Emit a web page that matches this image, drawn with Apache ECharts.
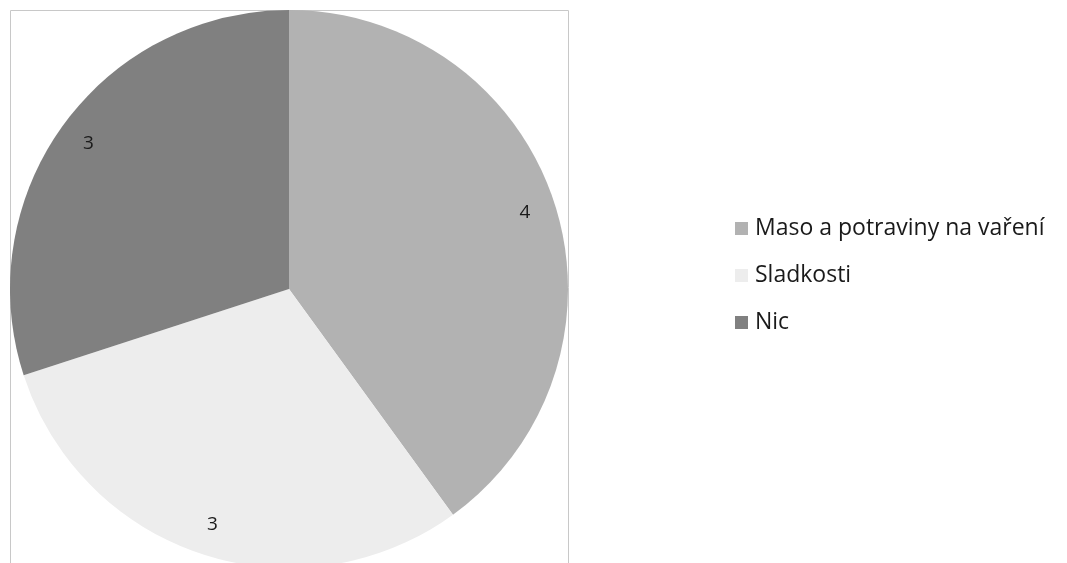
<!DOCTYPE html>
<html><head><meta charset="utf-8">
<script src="https://cdn.jsdelivr.net/npm/echarts@6/dist/echarts.min.js"></script>
<style>html,body{margin:0;padding:0;background:#fff}#c{width:1067px;height:563px}</style>
</head><body><div id="c"></div>
<script>
const categories = ["Maso a potraviny na vaření", "Sladkosti", "Nic"];
const values = [4, 3, 3];
const colors = ["#b2b2b2", "#ededed", "#808080"];

const data = categories.map((n, i) => ({ name: n, value: values[i], itemStyle: { color: colors[i] } }));
const chart = echarts.init(document.getElementById('c'));
const FONT = "'Open Sans', 'Liberation Sans', sans-serif";
chart.setOption({
  animation: false,
  graphic: [{
    type: 'rect', shape: { x: 10.5, y: 10.5, width: 558, height: 600 },
    style: { fill: 'none', stroke: '#c8c8c8', lineWidth: 1 }, z: 0
  }],
  legend: {
    orient: 'vertical', left: 730, top: 212, itemGap: 24,
    itemWidth: 13, itemHeight: 13, icon: 'rect',
    textStyle: { fontFamily: FONT, fontSize: 23, color: '#1a1a1a', padding: [0, 0, 0, 2] },
    data: categories
  },
  series: [{
    type: 'pie', center: [289, 289], radius: [0, 279], startAngle: 90, clockwise: true,
    label: { show: false }, labelLine: { show: false }, silent: true, z: 2,
    emphasis: { disabled: true }, data: data
  }, {
    type: 'pie', center: [289, 289], radius: [211, 279], startAngle: 90, clockwise: true,
    itemStyle: { color: 'transparent' }, silent: true, z: 3,
    emphasis: { disabled: true }, legendHoverLink: false,
    label: { show: true, position: 'inside', formatter: '{c}', fontFamily: FONT, fontSize: 19, color: '#1a1a1a' },
    labelLine: { show: false },
    data: categories.map((n, i) => ({ name: n + ' ', value: values[i] }))
  }]
});
</script></body></html>
